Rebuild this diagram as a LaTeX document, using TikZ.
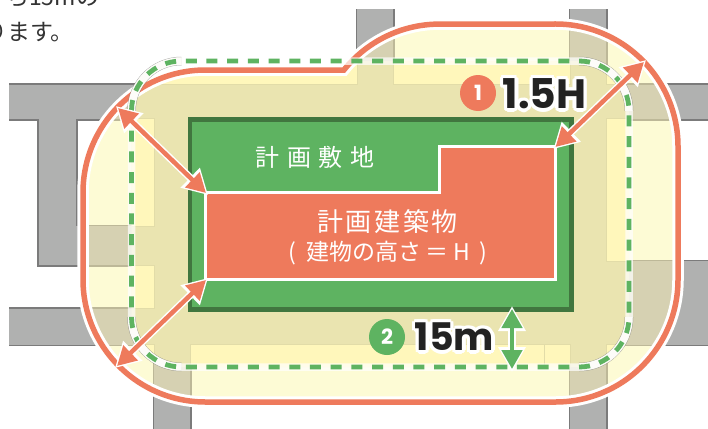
\documentclass[tikz,border=0pt]{standalone}
\usepackage{fontspec}
\usepackage{tikz}
\usetikzlibrary{arrows.meta}
\setmainfont{Noto Sans CJK JP}
\newfontfamily\dimfont{Poppins}
\definecolor{salmon}{HTML}{EE7A5C}
\definecolor{sitegreen}{HTML}{5EB361}
\definecolor{sitedark}{HTML}{41763F}
\definecolor{roadgray}{HTML}{B0B1B0}
\definecolor{roadedge}{HTML}{7B7B7B}
\definecolor{roadtan}{HTML}{D6D1B2}
\definecolor{roadtanedge}{HTML}{BDB898}
\definecolor{palebuild}{HTML}{FDFBD5}
\definecolor{yellowbuild}{HTML}{FFF7BB}
\definecolor{yellowedge}{HTML}{E2DCA8}
\definecolor{ringtan}{HTML}{EAE4B0}
\definecolor{inktext}{HTML}{333333}
\definecolor{inkdim}{HTML}{222222}
\newcommand{\roadnet}[2]{%
	\foreach \xa/\ya/\xb/\yb in {-5/84.5/154/119,38.5/84.5/76/265,38.5/226/154/265,-5/308.5/154/344.5,154/344/190/440,357/-5/393/84,570/-5/606/84,606/84.5/720/119,606/261/720/344.5,570/344/606/440}
		\draw[#2,line width=3pt] (\xa,\ya) rectangle (\xb,\yb);
	\foreach \xa/\ya/\xb/\yb in {-5/84.5/154/119,38.5/84.5/76/265,38.5/226/154/265,-5/308.5/154/344.5,154/344/190/440,357/-5/393/84,570/-5/606/84,606/84.5/720/119,606/261/720/344.5,570/344/606/440}
		\fill[#1] (\xa,\ya) rectangle (\xb,\yb);
}
\newcommand{\outerpath}{(83,192.5) arc[start angle=180,end angle=90,radius=122.5pt] -- (343.9,70) arc[start angle=141.3,end angle=90,radius=122.5pt] -- (555.5,24) arc[start angle=90,end angle=0,radius=122.5pt] -- (678,279.5) arc[start angle=0,end angle=-90,radius=122.5pt] -- (205.5,402) arc[start angle=-90,end angle=-180,radius=122.5pt] -- cycle}
\newcommand{\innerpath}{(131.5,111) arc[start angle=180,end angle=90,radius=50pt] -- (579,61) arc[start angle=90,end angle=0,radius=50pt] -- (629,317) arc[start angle=0,end angle=-90,radius=50pt] -- (181.5,367) arc[start angle=-90,end angle=-180,radius=50pt] -- cycle}
\tikzset{
	blockyellow/.style={fill=yellowbuild,draw=yellowedge,line width=1pt},
	pagetext/.style={anchor=base west,inner sep=0pt,inktext,font=\fontsize{23}{23}\selectfont},
	dimhalo/.style={white,inner sep=0pt,font=\dimfont\bfseries\fontsize{#1}{#1}\selectfont},
	dimtext/.style={inkdim,inner sep=0pt,font=\dimfont\bfseries\fontsize{#1}{#1}\selectfont},
	badge/.style={circle,inner sep=0pt,minimum size=36pt,text=white,font=\dimfont\bfseries\fontsize{21}{21}\selectfont},
	sitetext/.style={white,inner sep=0pt,font=\fontsize{#1}{#1}\selectfont},
	leaderhalo/.style={white,line width=7.5pt,{Triangle[length=25pt,width=26pt]}-{Triangle[length=25pt,width=26pt]},shorten >=-3pt,shorten <=-3pt},
	leader/.style={#1,line width=4.5pt,{Triangle[length=19pt,width=20pt]}-{Triangle[length=19pt,width=20pt]}}
}
\begin{document}
\begin{tikzpicture}[x=1pt,y=-1pt]
\useasboundingbox (0,0) rectangle (708,428);
\fill[white] (0,0) rectangle (708,428);
% text of the page above
\begin{scope}
	\clip (0,0) rectangle (708,428);
	\node[pagetext] (pagea) at (6,6) {ち15mの};
	\node[pagetext] (pageb) at (-16,41) {ります。};
\end{scope}
% roads
\begin{scope}
	\clip (9,10) rectangle (708,428);
	\roadnet{roadgray}{roadedge}
\end{scope}
% outer limit, filled
\fill[palebuild] \outerpath;
\begin{scope}
	\clip \outerpath;
	\roadnet{roadtan}{roadtanedge}
%	inside the dashed line
	\begin{scope}
		\clip \innerpath;
		\fill[ringtan] (120,50) rectangle (640,380);
		\foreach \xa/\ya/\xb/\yb in {120/50/357/84,393/50/570/84,606/50/640/84,120/118/154/226,120/265/154/308,606/118/640/261,190/344/544/380,544/344/570/380,120/344/154/380,606/344/640/380}
			\draw[blockyellow] (\xa,\ya) rectangle (\xb,\yb);
	\end{scope}
\end{scope}
% outer limit, line
\draw[white,line width=11.5pt] \outerpath;
\draw[salmon,line width=5.5pt] \outerpath;
% site and building
\fill[sitegreen,draw=sitedark,line width=4.5pt] (190,119.5) rectangle (571.5,309.5);
\coordinate (stepa) at (206,193);
\coordinate (stepb) at (555.5,147);
\coordinate (stepc) at (206,280);
\filldraw[fill=salmon,draw=white,line width=3.5pt] (205.5,192.5) -- (439.5,192.5) -- (439.5,146.5) -- (555.5,146.5) -- (555.5,279.5) -- (205.5,279.5) -- cycle;
\node[sitetext=24] (sitename) at (315,157) {計\hspace{7.7pt}画\hspace{7.7pt}敷\hspace{7.7pt}地};
\node[sitetext=26] (buildname) at (387.5,222) {計\hspace{2.7pt}画\hspace{2.7pt}建\hspace{2.7pt}築\hspace{2.7pt}物};
\node[sitetext=23] (buildheight) at (388,253) {(\hspace{10pt}建物の高さ\hspace{4pt}＝\hspace{5pt}H\hspace{10pt})};
% dashed line
\foreach \xa/\ya/\sa in {131.5/111/180,579/61/90,629/317/0,181.5/367/-90}
	\draw[gray,line width=8.5pt,opacity=.7] (\xa,\ya) arc[start angle=\sa,end angle=\sa-90,radius=50pt];
\foreach \xa/\ya/\sa in {131.5/111/180,579/61/90,629/317/0,181.5/367/-90}
	\draw[ringtan!25,line width=7.5pt] (\xa,\ya) arc[start angle=\sa,end angle=\sa-90,radius=50pt];
\draw[white,opacity=.7,line width=7.5pt] \innerpath;
\draw[sitegreen,line width=4.8pt,dash pattern=on 11pt off 9.7pt] \innerpath;
% arrows
\coordinate (reacha) at (118,108);
\coordinate (reachb) at (644,62);
\coordinate (reachc) at (117,366);
\coordinate (gaptop) at (512,309);
\coordinate (gapbot) at (512,369);
\foreach \pa/\pb in {reacha/stepa,reachb/stepb,reachc/stepc}{
	\draw[leaderhalo] (\pa) -- (\pb);
	\draw[leader=salmon] (\pa) -- (\pb);
}
\draw[leaderhalo] (gaptop) -- (gapbot);
\draw[leader=sitegreen] (gaptop) -- (gapbot);
% labels
\node[badge,fill=salmon] (bada) at (478,93) {1};
\node[badge,fill=sitegreen] (badb) at (387,337) {2};
\foreach \an in {0,30,...,330}{
	\node[dimhalo=41] at ([shift={(\an:3.5pt)}]544.5,94) {1.5H};
	\node[dimhalo=38] at ([shift={(\an:3.5pt)}]454.5,337) {15m};
}
\node[dimtext=41] (dima) at (544.5,94) {1.5H};
\node[dimtext=38] (dimb) at (454.5,337) {15m};
\end{tikzpicture}
\end{document}
